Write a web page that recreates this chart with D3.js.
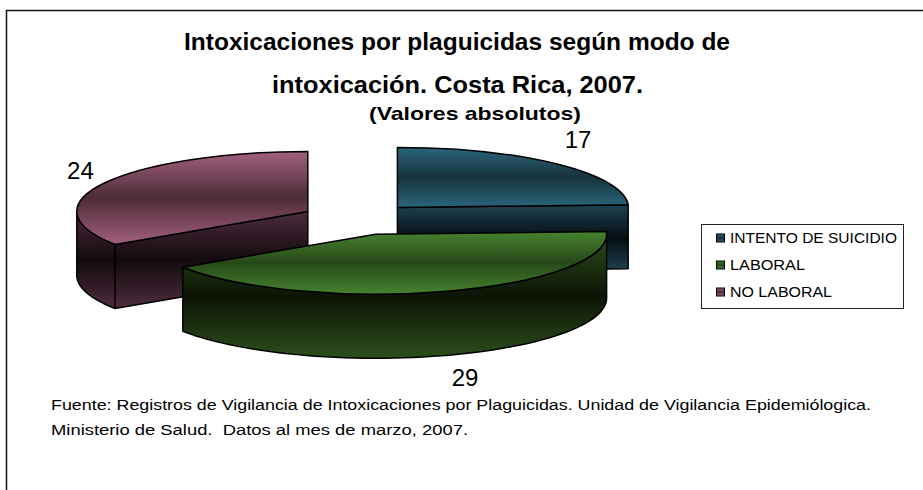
<!DOCTYPE html>
<html>
<head>
<meta charset="utf-8">
<script src="https://cdnjs.cloudflare.com/ajax/libs/d3/7.8.5/d3.min.js"></script>
<style>
html, body { margin: 0; padding: 0; background: #fff; }
text { font-family: "Liberation Sans", Arial, sans-serif; fill: #000; white-space: pre; }
.edge { stroke: #000; stroke-width: 1.5; stroke-linejoin: round; vector-effect: non-scaling-stroke; }
</style>
</head>
<body>
<div id="chart"></div>
<script>
//the numbers
var categories = ["INTENTO DE SUICIDIO", "LABORAL", "NO LABORAL"]
var values = [17, 29, 24]

var titleLines = ["Intoxicaciones por plaguicidas según modo de", "intoxicación. Costa Rica, 2007."]
var subtitle = "(Valores absolutos)"
var sourceLines = [
    "Fuente: Registros de Vigilancia de Intoxicaciones por Plaguicidas. Unidad de Vigilancia Epidemiólogica.",
    "Ministerio de Salud.  Datos al mes de marzo, 2007."
]

//light, dark for the lids and light, dark for the walls
var lidColors = [["#2a667c", "#17323c"], ["#46832f", "#27481a"], ["#a2607e", "#4e2c38"]]
var wallColors = [["#1f4252", "#050d12"], ["#2b4e1d", "#0c1404"], ["#4e2c3c", "#120a0e"]]

//dimensions
var screen = {width: 923, height: 490}
var pie3d = {cx: 358, cy: 219, rx: 231, ry: 60, depth: 64, explodeX: 57, explodeY: 16}

var svg = d3.select("#chart")
.append("svg")
.attr("width", screen.width)
.attr("height", screen.height)

var defs = svg.append("defs")

//three stop vertical gradient, same colour at both ends and dark in the middle
var makeGradient = function(id, colors)
{
    var grad = defs.append("linearGradient")
    .attr("id", id)
    .attr("x1", 0).attr("y1", 0)
    .attr("x2", 0).attr("y2", 1)

    grad.selectAll("stop")
    .data([colors[0], colors[1], colors[0]])
    .enter()
    .append("stop")
    .attr("offset", function(d, i) { return i / 2 })
    .attr("stop-color", function(d) { return d })
}

lidColors.forEach(function(c, i) { makeGradient("lid" + i, c) })
wallColors.forEach(function(c, i) { makeGradient("wall" + i, c) })

//frame, only the top and left lines are in the picture
svg.append("path")
.attr("d", "M6.5," + screen.height + "V10.5H" + screen.width)
.attr("fill", "none")
.attr("stroke", "#111")
.attr("stroke-width", 1.5)

//title, the picture is stretched sideways so the glyphs get stretched too
var titleLayout = [{x: 184, y: 50, w: 546}, {x: 272, y: 93, w: 371}]

svg.selectAll("text.title")
.data(titleLines)
.enter()
.append("text")
.attr("class", "title")
.attr("x", function(d, i) { return titleLayout[i].x })
.attr("y", function(d, i) { return titleLayout[i].y })
.attr("textLength", function(d, i) { return titleLayout[i].w })
.attr("lengthAdjust", "spacingAndGlyphs")
.style("font-size", "23px")
.style("font-weight", "bold")
.text(function(d) { return d })

svg.append("text")
.attr("x", 369)
.attr("y", 120)
.attr("textLength", 212)
.attr("lengthAdjust", "spacingAndGlyphs")
.style("font-size", "19px")
.style("font-weight", "bold")
.text(subtitle)

//the pie, clockwise from 12 o'clock like excel does it
var slices = d3.pie().sort(null)(values)

slices.forEach(function(s, i)
{
    var mid = (s.startAngle + s.endAngle) / 2
    s.index = i
    s.cx = pie3d.cx + pie3d.explodeX * Math.sin(mid)
    s.cy = pie3d.cy - pie3d.explodeY * Math.cos(mid)
    s.mid = mid
})

//a point on the rim of the slice's lid
var rimX = function(s, a) { return s.cx + pie3d.rx * Math.sin(a) }
var rimY = function(s, a) { return s.cy - pie3d.ry * Math.cos(a) }

var line = d3.line()
.x(function(d) { return d[0] })
.y(function(d) { return d[1] })

//the walls you can see: the front of the rim and the cut face on the left side or right side
var wallPath = function(s)
{
    var from = Math.max(s.startAngle, Math.PI / 2)
    var to = Math.min(s.endAngle, Math.PI * 3 / 2)
    var steps = 60
    var pts = []

    if (to > from)
    {
        var rim = d3.range(steps + 1).map(function(k)
        {
            var a = from + (to - from) * k / steps
            return [rimX(s, a), rimY(s, a)]
        })
        var under = rim.map(function(p) { return [p[0], p[1] + pie3d.depth] }).reverse()
        pts.push(line(rim.concat(under)) + "Z")
    }

    //cut face from the center to the far end of the slice, when it looks at us
    var cut = null
    if (s.endAngle < Math.PI) { cut = s.endAngle }
    if (s.startAngle > Math.PI) { cut = s.startAngle }
    if (cut != null)
    {
        var x = rimX(s, cut)
        var y = rimY(s, cut)
        pts.push(line([[s.cx, s.cy], [x, y], [x, y + pie3d.depth], [s.cx, s.cy + pie3d.depth]]) + "Z")
    }
    return pts.join("")
}

var lidArc = d3.arc().innerRadius(0).outerRadius(pie3d.rx)

//teal first, then purple, green sits in front of both
var order = [0, 2, 1]

var groups = svg.append("g")
.attr("id", "pie")
.selectAll("g")
.data(order.map(function(i) { return slices[i] }))
.enter()
.append("g")

groups.append("path")
.attr("class", "edge")
.attr("d", wallPath)
.attr("fill", function(d) { return "url(#wall" + d.index + ")" })

groups.append("path")
.attr("class", "edge")
.attr("transform", function(d)
{
    return "translate(" + d.cx + "," + d.cy + ") scale(1," + (pie3d.ry / pie3d.rx) + ")"
})
.attr("d", lidArc)
.attr("fill", function(d) { return "url(#lid" + d.index + ")" })

//value labels, pushed off the rim
var labelNudge = [[21, -25], [18, 86], [-24, -12]]

svg.selectAll("text.value")
.data(slices)
.enter()
.append("text")
.attr("class", "value")
.attr("x", function(d) { return rimX(d, d.mid) + labelNudge[d.index][0] })
.attr("y", function(d) { return rimY(d, d.mid) + labelNudge[d.index][1] })
.attr("text-anchor", "middle")
.attr("dominant-baseline", "central")
.style("font-size", "24px")
.text(function(d) { return d.value })

//legend
var legend = svg.append("g").attr("id", "legend")

legend.append("rect")
.attr("x", 701.5)
.attr("y", 224.5)
.attr("width", 202)
.attr("height", 84)
.attr("fill", "#fff")
.attr("stroke", "#222")

var legendY = d3.scalePoint()
.domain(categories)
.range([238, 292])

legend.selectAll("rect.swatch")
.data(categories)
.enter()
.append("rect")
.attr("class", "swatch")
.attr("x", 716.5)
.attr("y", function(d) { return legendY(d) - 4 })
.attr("width", 8)
.attr("height", 8)
.attr("fill", function(d, i) { return "url(#lid" + i + ")" })
.attr("stroke", "#000")

var legendWidths = [167, 75, 102]

legend.selectAll("text")
.data(categories)
.enter()
.append("text")
.attr("x", 730)
.attr("y", function(d) { return legendY(d) + 5 })
.attr("textLength", function(d, i) { return legendWidths[i] })
.attr("lengthAdjust", "spacingAndGlyphs")
.style("font-size", "14.5px")
.text(function(d) { return d })

//source note, same sideways stretch
var sourceLayout = [{y: 410, w: 820}, {y: 435, w: 417}]

svg.selectAll("text.source")
.data(sourceLines)
.enter()
.append("text")
.attr("class", "source")
.attr("x", 51)
.attr("y", function(d, i) { return sourceLayout[i].y })
.attr("textLength", function(d, i) { return sourceLayout[i].w })
.attr("lengthAdjust", "spacingAndGlyphs")
.style("font-size", "15.5px")
.text(function(d) { return d })
</script>
</body>
</html>
